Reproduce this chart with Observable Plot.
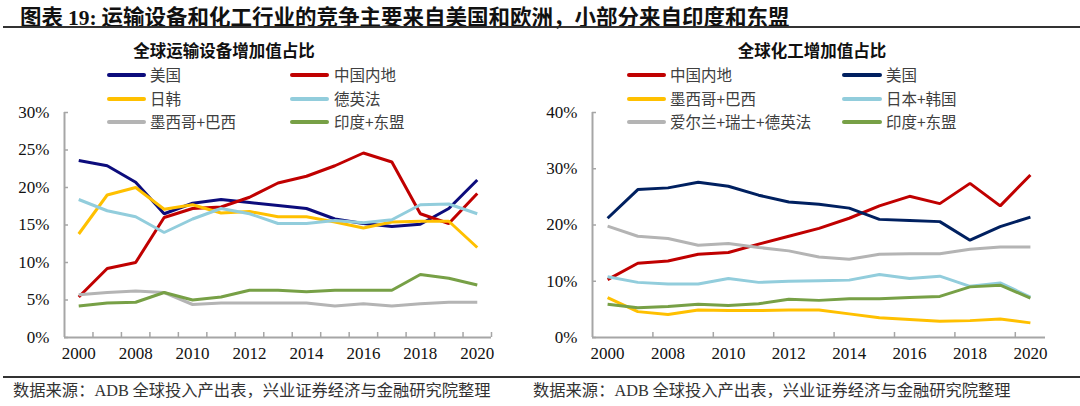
<!DOCTYPE html>
<html><head><meta charset="utf-8">
<script src="https://cdn.jsdelivr.net/npm/d3@7"></script>
<script src="https://cdn.jsdelivr.net/npm/@observablehq/plot@0.6"></script>
<style>
body{margin:0;background:#fff;}
#wrap{position:relative;width:1080px;height:406px;overflow:hidden;font-family:"Noto Sans CJK SC",sans-serif;background:#fff;}
.abs{position:absolute;white-space:nowrap;}
.title{left:20px;top:0px;font-size:21.5px;font-weight:bold;color:#111;}
.title .num{font-family:"Liberation Serif",serif;}
.rule{position:absolute;left:3px;width:1077px;height:2px;background:#333;}
.sub{font-size:16.5px;font-weight:bold;color:#111;transform:translateX(-50%);}
.src{font-size:16.3px;color:#333;}
.src .lat{font-family:"Liberation Serif",serif;}
.leg{font-size:15.5px;color:#404040;line-height:20px;}
.sw{position:absolute;height:4px;border-radius:2px;}
.chart{position:absolute;top:90px;}
</style></head><body><div id="wrap"></div>
<script>
const years = ["2000","2007","2008","2009","2010","2011","2012","2013","2014","2015","2016","2017","2018","2019","2020"];

// 全球运输设备增加值占比 (%)
const tNames = ["美国","中国内地","日韩","德英法","墨西哥+巴西","印度+东盟"];
const tColors = ["#0c0c7c","#c00000","#ffc000","#92cddc","#b4b4b4","#77a046"];
const tUS    = [23.6,22.9,20.7,16.5,17.9,18.4,18.0,17.6,17.2,15.8,15.2,14.8,15.1,17.2,21.0];
const tCN    = [5.4,9.2,10.0,16.0,17.2,17.4,18.7,20.6,21.5,22.9,24.6,23.4,16.5,15.2,19.2];
const tJK    = [13.8,19.0,20.0,17.1,17.7,16.6,16.8,16.1,16.1,15.4,14.6,15.4,15.5,15.5,12.0];
const tDEUKFR= [18.4,16.9,16.1,14.0,15.8,17.2,16.5,15.2,15.2,15.6,15.3,15.7,17.7,17.8,16.5];
const tMXBR  = [5.7,6.0,6.2,6.0,4.4,4.6,4.6,4.6,4.6,4.2,4.5,4.2,4.5,4.7,4.7];
const tINAS  = [4.2,4.6,4.7,6.0,5.0,5.4,6.3,6.3,6.1,6.3,6.3,6.3,8.4,7.9,7.0];
const tTicks = [0,5,10,15,20,25,30];

// 全球化工增加值占比 (%)
const cNames = ["中国内地","美国","墨西哥+巴西","日本+韩国","爱尔兰+瑞士+德英法","印度+东盟"];
const cColors = ["#c00000","#002060","#ffc000","#92cddc","#b4b4b4","#77a046"];
const cCN    = [10.3,13.2,13.6,14.8,15.1,16.6,18.0,19.4,21.2,23.4,25.1,23.8,27.4,23.4,28.9];
const cUS    = [21.2,26.3,26.6,27.6,26.9,25.3,24.1,23.7,23.0,21.0,20.8,20.6,17.3,19.7,21.4];
const cMXBR  = [7.1,4.6,4.1,4.9,4.8,4.8,4.9,4.9,4.2,3.5,3.2,2.9,3.0,3.3,2.6];
const cJPKR  = [10.8,9.8,9.5,9.5,10.5,9.8,10.0,10.1,10.2,11.2,10.5,10.9,9.1,9.7,7.2];
const cEU    = [19.8,18.0,17.6,16.4,16.7,16.0,15.4,14.3,13.9,14.8,14.9,14.9,15.7,16.1,16.1];
const cINAS  = [5.9,5.3,5.5,5.9,5.7,6.0,6.8,6.6,6.9,6.9,7.1,7.3,9.0,9.3,7.0];
const cTicks = [0,10,20,30,40];

const axisColor = "#a6a6a6";
const wrap = document.getElementById("wrap");

function el(cls, html, css) {
  const d = document.createElement("div");
  d.className = cls;
  d.innerHTML = html;
  Object.assign(d.style, css || {});
  wrap.appendChild(d);
  return d;
}

function makeChart({names, colors, series, yMax, yTicks, bounds, mL, mR}) {
  const W = 540, H = 280, mT = 22, mB = 33;
  const plotW = W - mL - mR, plotH = H - mT - mB;
  const rows = names.flatMap((n, k) => series[k].map((v, i) => ({name: n, i, v})));
  const labelIdx = years.map((y, i) => i).filter(i => i % 2 === 0);
  return Plot.plot({
    width: W, height: H, marginLeft: mL, marginRight: mR, marginTop: mT, marginBottom: mB,
    style: {fontFamily: "'Liberation Serif','Times New Roman',serif", fontSize: "17px", color: "#111", background: "transparent", overflow: "visible"},
    x: {type: "linear", domain: [-0.5, years.length - 0.5]},
    y: {domain: [0, yMax]},
    color: {domain: names, range: colors},
    marks: [
      Plot.axisY(yTicks, {tickSize: 0, tickPadding: 15, tickFormat: d => d + "%", fill: "#111", label: null}),
      Plot.axisX(labelIdx, {tickSize: 0, tickPadding: 9, tickFormat: i => years[i], fill: "#111", label: null}),
      Plot.tickY(yTicks, {y: d => d, stroke: axisColor, strokeWidth: 1.5, insetRight: plotW - 4}),
      Plot.tickX(bounds, {x: d => d, stroke: axisColor, strokeWidth: 1.5, insetTop: plotH - 5}),
      Plot.ruleX([-0.5], {stroke: axisColor, strokeWidth: 2}),
      Plot.ruleY([0], {stroke: axisColor, strokeWidth: 2}),
      Plot.line(rows, {x: "i", y: "v", stroke: "name", z: "name", strokeWidth: 3, strokeLinejoin: "miter", strokeLinecap: "butt"})
    ]
  });
}

function legend(names, colors, col1, col2) {
  const rowsY = [75, 98.5, 122];
  names.forEach((n, k) => {
    const c = k % 2 === 0 ? col1 : col2;
    const y = rowsY[Math.floor(k / 2)];
    const sw = document.createElement("div");
    sw.className = "sw";
    Object.assign(sw.style, {left: c.sx + "px", top: (y - 2) + "px", width: c.sw + "px", background: colors[k]});
    wrap.appendChild(sw);
    el("abs leg", n, {left: c.tx + "px", top: (y - 11) + "px"});
  });
}

// Title and rules
el("abs title", '图表 <span class="num">19:</span> 运输设备和化工行业的竞争主要来自美国和欧洲，小部分来自印度和东盟');
const r1 = document.createElement("div"); r1.className = "rule"; r1.style.top = "26px"; wrap.appendChild(r1);
const r2 = document.createElement("div"); r2.className = "rule"; r2.style.top = "376px"; wrap.appendChild(r2);

// Left chart
const left = makeChart({
  names: tNames, colors: tColors,
  series: [tUS, tCN, tJK, tDEUKFR, tMXBR, tINAS],
  yMax: 30, yTicks: tTicks,
  bounds: d3.range(0.5, years.length, 1),
  mL: 64, mR: 49
});
left.classList.add("chart"); left.style.left = "0px";
wrap.appendChild(left);

// Right chart
const right = makeChart({
  names: cNames, colors: cColors,
  series: [cCN, cUS, cMXBR, cJPKR, cEU, cINAS],
  yMax: 40, yTicks: cTicks,
  bounds: d3.range(1.5, years.length - 1, 2),
  mL: 52, mR: 35
});
right.classList.add("chart"); right.style.left = "540px";
wrap.appendChild(right);

// Subtitles
el("abs sub", "全球运输设备增加值占比", {left: "224px", top: "38px"});
el("abs sub", "全球化工增加值占比", {left: "812px", top: "38px"});

// Legends
legend(tNames, tColors, {sx: 107, sw: 39, tx: 150}, {sx: 290, sw: 39, tx: 334});
legend(cNames, cColors, {sx: 627, sw: 39, tx: 670}, {sx: 842, sw: 40, tx: 886});

// Sources
const srcHtml = '数据来源：<span class="lat">ADB</span> 全球投入产出表，兴业证券经济与金融研究院整理';
el("abs src", srcHtml, {left: "13px", top: "377px"});
el("abs src", srcHtml, {left: "533px", top: "377px"});
</script></body></html>
